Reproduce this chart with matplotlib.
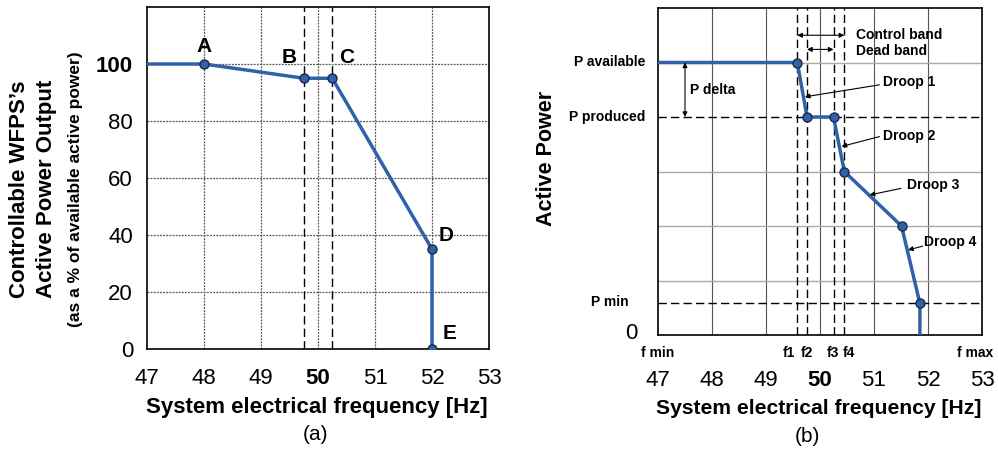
import numpy as np
import matplotlib.pyplot as plt

plt.rcParams['font.family'] = ['Liberation Sans', 'DejaVu Sans']

# panel (a): points A..E
freq_a = [47, 48, 49.75, 50.25, 52, 52]
power_a = [100, 100, 95, 95, 35, 0]
pt_names = ['A', 'B', 'C', 'D', 'E']
pt_label_x = [48.0, 49.5, 50.5, 52.25, 52.3]
pt_label_y = [106, 102.3, 102.3, 40, 5.5]
yticks_a = [0, 20, 40, 60, 80, 100]
band_a = [49.75, 50.25]

# panel (b): droop curve
freq_b = [47, 49.58, 49.76, 50.25, 50.45, 51.51, 51.85, 51.85]
power_b = [5, 5, 4, 4, 3, 2, 0.58, 0]
f_marks = [49.58, 49.76, 50.25, 50.45]
f_names = ['f1', 'f2', 'f3', 'f4']
p_avail, p_prod, p_min = 5, 4, 0.58

xticks = [47, 48, 49, 50, 51, 52, 53]
blue = '#2f62a8'
W, H = 998, 453

fig = plt.figure(figsize=(W / 100, H / 100), dpi=100)

def ax_px(x0, y0, x1, y1):
    return fig.add_axes([x0 / W, 1 - y1 / H, (x1 - x0) / W, (y1 - y0) / H])

def tx(x, y, s, **kw):
    fig.text(x / W, 1 - y / H, s, **kw)

# ---------- (a) ----------
ax1 = ax_px(147, 7, 489, 349)
ax1.set_xlim(47, 53)
ax1.set_ylim(0, 120)
for x in xticks[1:-1]:
    ax1.axvline(x, color='#555555', lw=0.9, ls=(0, (1.5, 1)), zorder=1)
for y in yticks_a[1:]:
    ax1.axhline(y, color='#555555', lw=0.9, ls=(0, (1.5, 1)), zorder=1)
for x in band_a:
    ax1.axvline(x, color='black', lw=1, ls=(0, (6, 3)), zorder=2)
ax1.plot(freq_a, power_a, color=blue, lw=2.5, zorder=3)
ax1.plot(freq_a[1:], power_a[1:], 'o', ms=6.5, mfc=blue, mec='#1a2a4a', mew=1, zorder=4)
for n, lx, ly in zip(pt_names, pt_label_x, pt_label_y):
    ax1.text(lx, ly, n, fontsize=15, fontweight='bold', ha='center', va='center')
ax1.set_xticks(xticks)
ax1.set_yticks(yticks_a)
ax1.tick_params(length=0, labelsize=16, pad=10)
ax1.tick_params(axis='x', pad=14)
for lab in ax1.get_yticklabels():
    if lab.get_text() == '100':
        lab.set_fontweight('bold')
for lab in ax1.get_xticklabels():
    if lab.get_text() == '50':
        lab.set_fontweight('bold')
for s in ax1.spines.values():
    s.set_linewidth(1.2)

tx(20, 189, "Controllable WFPS\u2019s", rotation=90, fontsize=16, fontweight='bold', ha='center', va='center')
tx(47, 189, 'Active Power Output', rotation=90, fontsize=16, fontweight='bold', ha='center', va='center')
tx(76, 189, '(as a % of available active power)', rotation=90, fontsize=12.5, fontweight='bold', ha='center', va='center')
tx(317, 408, 'System electrical frequency [Hz]', fontsize=16, fontweight='bold', ha='center', va='center')
tx(315, 435, '(a)', fontsize=15, ha='center', va='center')

# ---------- (b) ----------
ax2 = ax_px(658, 8, 982, 335)
ax2.set_xlim(47, 53)
ax2.set_ylim(0, 6)
for x in xticks[1:-1]:
    ax2.axvline(x, color='#555555', lw=0.8, zorder=1)
for y in [1, 2, 3, 5]:
    ax2.axhline(y, color='#aaaaaa', lw=1, zorder=1)
for y in [p_prod, p_min]:
    ax2.axhline(y, color='black', lw=1, ls=(0, (6, 3)), zorder=2)
for x in f_marks:
    ax2.axvline(x, color='black', lw=1, ls=(0, (6, 3)), zorder=2)
ax2.plot(freq_b, power_b, color=blue, lw=2.5, zorder=3)
ax2.plot(freq_b[1:-1], power_b[1:-1], 'o', ms=6.5, mfc=blue, mec='#1a2a4a', mew=1, zorder=4)

arw = dict(arrowstyle='<|-|>', color='black', lw=0.8, mutation_scale=7, shrinkA=0, shrinkB=0)
ax2.annotate('', xy=(f_marks[0], 5.5), xytext=(f_marks[3], 5.5), arrowprops=arw)
ax2.annotate('', xy=(f_marks[1], 5.24), xytext=(f_marks[2], 5.24), arrowprops=arw)
ax2.annotate('', xy=(47.5, p_avail), xytext=(47.5, p_prod), arrowprops=arw)
ax2.text(50.67, 5.5, 'Control band', fontsize=10, fontweight='bold', va='center')
ax2.text(50.67, 5.22, 'Dead band', fontsize=10, fontweight='bold', va='center')
ax2.text(47.6, 4.5, 'P delta', fontsize=10, fontweight='bold', va='center')

droops = [('Droop 1', 51.16, 4.65, 51.1, 4.59, 49.72, 4.37),
          ('Droop 2', 51.16, 3.65, 51.1, 3.64, 50.40, 3.46),
          ('Droop 3', 51.61, 2.76, 51.5, 2.69, 50.92, 2.57),
          ('Droop 4', 51.93, 1.70, 51.9, 1.63, 51.63, 1.56)]
for name, lx, ly, ax0, ay0, ax_, ay_ in droops:
    ax2.text(lx, ly, name, fontsize=10, fontweight='bold', va='center')
    ax2.annotate('', xy=(ax_, ay_), xytext=(ax0, ay0),
                 arrowprops=dict(arrowstyle='-|>', color='black', lw=0.8, mutation_scale=7, shrinkA=0, shrinkB=0))

ax2.set_xticks(xticks)
ax2.set_yticks([])
ax2.tick_params(length=0, labelsize=16, pad=25)
for lab in ax2.get_xticklabels():
    if lab.get_text() == '50':
        lab.set_fontweight('bold')
for s in ax2.spines.values():
    s.set_linewidth(1.2)

ax2.text(46.77, p_avail, 'P available', fontsize=10, fontweight='bold', ha='right', va='center', clip_on=False)
ax2.text(46.77, p_prod, 'P produced', fontsize=10, fontweight='bold', ha='right', va='center', clip_on=False)
ax2.text(46.46, p_min + 0.02, 'P min', fontsize=10, fontweight='bold', ha='right', va='center', clip_on=False)
ax2.text(46.51, 0.02, '0', fontsize=16, ha='center', va='center', clip_on=False)

tx(658, 353, 'f min', fontsize=10, fontweight='bold', ha='center', va='center')
tx(975, 353, 'f max', fontsize=10, fontweight='bold', ha='center', va='center')
f_offsets = [-8, 0, -1, 5]
for x, n, off in zip(f_marks, f_names, f_offsets):
    xp = 658 + (x - 47) * 54 + off
    tx(xp, 353, n, fontsize=10, fontweight='bold', ha='center', va='center')

tx(547, 158, 'Active Power', rotation=90, fontsize=15.5, fontweight='bold', ha='center', va='center')
tx(819, 409, 'System electrical frequency [Hz]', fontsize=15.2, fontweight='bold', ha='center', va='center')
tx(807, 437, '(b)', fontsize=15, ha='center', va='center')

fig.savefig('out.png', dpi=100)
